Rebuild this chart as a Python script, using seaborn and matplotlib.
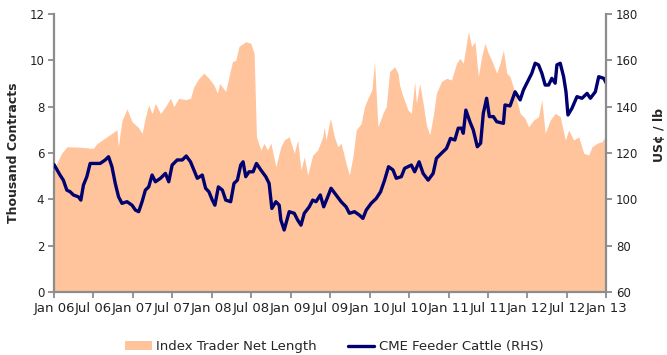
import matplotlib
matplotlib.use("Agg")
import matplotlib.pyplot as plt
import numpy as np
import pandas as pd
import seaborn as sns

# Index trader net length (thousand contracts), time in decimal years
area_time = [2006.000, 2006.098, 2006.165, 2006.331, 2006.496, 2006.543, 2006.585, 2006.734,
             2006.798, 2006.814, 2006.861, 2006.925, 2006.989, 2007.069, 2007.116, 2007.158,
             2007.200, 2007.243, 2007.285, 2007.349, 2007.412, 2007.476, 2007.518, 2007.581,
             2007.667, 2007.730, 2007.772, 2007.836, 2007.899, 2007.963, 2008.027, 2008.070,
             2008.099, 2008.176, 2008.218, 2008.261, 2008.303, 2008.345, 2008.430, 2008.494,
             2008.536, 2008.566, 2008.621, 2008.663, 2008.706, 2008.748, 2008.812, 2008.875,
             2008.917, 2008.981, 2009.045, 2009.088, 2009.130, 2009.172, 2009.215, 2009.279,
             2009.342, 2009.406, 2009.426, 2009.448, 2009.503, 2009.553, 2009.596, 2009.639,
             2009.702, 2009.744, 2009.788, 2009.830, 2009.893, 2009.935, 2009.978, 2010.029,
             2010.062, 2010.106, 2010.169, 2010.211, 2010.253, 2010.317, 2010.360, 2010.380,
             2010.424, 2010.487, 2010.529, 2010.571, 2010.593, 2010.635, 2010.678, 2010.720,
             2010.762, 2010.805, 2010.847, 2010.911, 2010.975, 2011.038, 2011.102, 2011.144,
             2011.187, 2011.251, 2011.293, 2011.335, 2011.378, 2011.420, 2011.462, 2011.505,
             2011.547, 2011.611, 2011.653, 2011.696, 2011.738, 2011.780, 2011.844, 2011.908,
             2011.971, 2012.014, 2012.078, 2012.141, 2012.183, 2012.225, 2012.289, 2012.352,
             2012.416, 2012.480, 2012.523, 2012.586, 2012.650, 2012.714, 2012.777, 2012.819,
             2012.883, 2012.947, 2013.000]
net_length = [5.3, 6.0, 6.27, 6.25, 6.2, 6.4, 6.5, 6.85,
              7.0, 6.27, 7.4, 7.9, 7.35, 7.1, 6.85, 7.55,
              8.07, 7.7, 8.14, 7.7, 8.0, 8.36, 8.0, 8.36,
              8.3, 8.36, 8.86, 9.22, 9.44, 9.22, 8.93, 8.58,
              9.0, 8.65, 9.3, 9.94, 10.0, 10.6, 10.8, 10.73,
              10.3, 6.7, 6.13, 6.42, 6.13, 6.43, 5.41, 6.27,
              6.56, 6.7, 5.99, 6.56, 5.27, 5.84, 5.05, 5.91,
              6.13, 6.7, 7.13, 6.56, 7.5, 6.7, 6.27, 6.42,
              5.55, 5.05, 5.84, 6.99, 7.28, 8.0, 8.36, 8.72,
              9.94, 7.13, 7.71, 8.0, 9.51, 9.72, 9.44, 8.93,
              8.43, 7.85, 7.71, 9.08, 8.14, 9.0, 8.14, 7.21,
              6.78, 7.57, 8.58, 9.08, 9.22, 9.15, 9.87, 10.08,
              9.87, 11.23, 10.59, 10.8, 9.29, 10.16, 10.73, 10.3,
              10.0, 9.44, 9.87, 10.44, 9.44, 9.29, 8.58, 7.71,
              7.49, 7.13, 7.42, 7.57, 8.29, 6.85, 7.42, 7.71,
              7.57, 6.56, 6.99, 6.56, 6.7, 5.99, 5.91, 6.27,
              6.42, 6.49, 6.78]

# CME feeder cattle (US cents / lb)
cattle_time = [2006.000, 2006.076, 2006.118, 2006.162, 2006.204, 2006.246, 2006.309, 2006.340,
               2006.373, 2006.416, 2006.458, 2006.522, 2006.585, 2006.649, 2006.691, 2006.734,
               2006.776, 2006.818, 2006.861, 2006.925, 2006.989, 2007.031, 2007.073, 2007.116,
               2007.158, 2007.200, 2007.243, 2007.285, 2007.349, 2007.412, 2007.454, 2007.497,
               2007.561, 2007.625, 2007.676, 2007.730, 2007.772, 2007.816, 2007.879, 2007.921,
               2007.963, 2008.006, 2008.039, 2008.083, 2008.134, 2008.176, 2008.239, 2008.281,
               2008.324, 2008.366, 2008.396, 2008.430, 2008.472, 2008.523, 2008.566, 2008.621,
               2008.684, 2008.726, 2008.761, 2008.812, 2008.854, 2008.875, 2008.917, 2008.981,
               2009.045, 2009.088, 2009.130, 2009.172, 2009.235, 2009.279, 2009.321, 2009.375,
               2009.418, 2009.469, 2009.511, 2009.575, 2009.639, 2009.702, 2009.744, 2009.808,
               2009.871, 2009.915, 2009.957, 2010.020, 2010.084, 2010.139, 2010.190, 2010.240,
               2010.296, 2010.338, 2010.402, 2010.444, 2010.529, 2010.571, 2010.627, 2010.678,
               2010.742, 2010.805, 2010.847, 2010.911, 2010.975, 2011.025, 2011.080, 2011.123,
               2011.165, 2011.187, 2011.220, 2011.271, 2011.314, 2011.365, 2011.407, 2011.441,
               2011.483, 2011.518, 2011.569, 2011.611, 2011.696, 2011.716, 2011.780, 2011.844,
               2011.908, 2011.950, 2012.014, 2012.056, 2012.098, 2012.141, 2012.183, 2012.225,
               2012.268, 2012.310, 2012.352, 2012.374, 2012.416, 2012.459, 2012.489, 2012.514,
               2012.565, 2012.628, 2012.692, 2012.756, 2012.798, 2012.861, 2012.904, 2012.968,
               2013.000]
cattle_price = [115.0, 110.5, 108.3, 104.0, 103.3, 101.9, 101.1, 99.7,
                106.2, 109.8, 115.5, 115.5, 115.5, 117.0, 118.4, 114.1,
                106.9, 101.1, 98.3, 99.0, 97.5, 95.4, 94.7, 99.0,
                104.0, 105.4, 110.5, 107.6, 109.1, 111.2, 107.6, 114.8,
                117.0, 117.0, 118.7, 116.2, 112.7, 109.1, 110.5, 104.8,
                103.3, 99.7, 97.5, 105.4, 104.0, 99.7, 99.0, 106.9,
                108.3, 114.8, 116.2, 109.8, 111.9, 111.9, 115.5, 112.7,
                109.8, 106.9, 96.1, 99.0, 97.5, 91.1, 86.8, 94.7,
                94.0, 91.1, 88.9, 94.0, 96.8, 99.7, 99.0, 101.9,
                96.8, 101.1, 104.8, 101.9, 99.0, 96.8, 94.0, 94.7,
                93.2, 91.8, 95.4, 98.3, 100.4, 103.3, 108.3, 114.1,
                112.7, 109.1, 109.8, 113.4, 114.8, 111.9, 116.2, 111.2,
                108.3, 111.2, 117.7, 119.9, 122.0, 126.3, 125.6, 130.7,
                130.7, 128.5, 138.5, 133.5, 129.9, 122.7, 124.2, 137.1,
                143.6, 135.7, 135.7, 133.5, 132.8, 140.7, 140.3, 146.4,
                142.9, 147.2, 151.5, 154.4, 158.7, 158.0, 154.4, 149.3,
                149.3, 152.2, 150.1, 158.0, 158.7, 152.9, 146.4, 136.4,
                139.3, 144.3, 143.6, 145.7, 143.6, 146.4, 152.9, 152.2,
                150.1]

tick_labels = ["Jan 06", "Jul 06", "Jan 07", "Jul 07", "Jan 08", "Jul 08", "Jan 09", "Jul 09",
               "Jan 10", "Jul 10", "Jan 11", "Jul 11", "Jan 12", "Jul 12", "Jan 13"]

area_df = pd.DataFrame({"time": area_time, "net": net_length})
cattle_df = pd.DataFrame({"time": cattle_time, "price": cattle_price})

sns.set_style("white")
plt.rcParams["font.family"] = ["DejaVu Sans"]

AREA_COLOR = "#FFC49C"
LINE_COLOR = "#000070"
AXIS_GRAY = "#8c8c8c"

fig = plt.figure(figsize=(6.67, 3.55), dpi=100)
ax = fig.add_axes([0.081, 0.177, 0.828, 0.784])

ax.fill_between(area_df["time"], 0, area_df["net"], color=AREA_COLOR, linewidth=0,
                label="Index Trader Net Length")
ax.set_xlim(2006.0, 2013.0)
ax.set_ylim(0, 12)
ax.set_yticks(range(0, 13, 2))
ax.set_xticks(2006 + 0.5 * np.arange(len(tick_labels)))
ax.set_xticklabels(tick_labels)
ax.set_ylabel("Thousand Contracts", fontsize=9, fontweight="bold")
ax.yaxis.set_label_coords(-0.062, 0.5)

ax2 = ax.twinx()
sns.lineplot(data=cattle_df, x="time", y="price", ax=ax2, color=LINE_COLOR, linewidth=2.4,
             label="CME Feeder Cattle (RHS)", legend=False)
ax2.set_ylim(60, 180)
ax2.set_yticks(range(60, 181, 20))
ax2.set_xlim(2006.0, 2013.0)
ax2.set_xlabel("")
ax2.set_ylabel("US\u00a2 / lb", fontsize=9, fontweight="bold", rotation=90)
ax2.yaxis.set_label_coords(1.084, 0.565)

for a in (ax, ax2):
    a.spines["top"].set_visible(False)
    for side in ("left", "right", "bottom"):
        a.spines[side].set_color(AXIS_GRAY)
        a.spines[side].set_linewidth(1.6)
    a.tick_params(colors=AXIS_GRAY, labelcolor="#222222", labelsize=8.5, length=4,
                  width=1.3, direction="out")
ax.spines["right"].set_visible(False)
ax2.spines["left"].set_visible(False)
ax2.spines["bottom"].set_visible(False)
ax.tick_params(axis="y", left=True, pad=3)
ax.tick_params(axis="x", bottom=True, pad=3, labelsize=9.5)
ax2.tick_params(axis="y", right=True, pad=3)

handles1, labels1 = ax.get_legend_handles_labels()
handles2, labels2 = ax2.get_legend_handles_labels()
fig.legend(handles1 + handles2, labels1 + labels2, loc="center", bbox_to_anchor=(0.5015, 0.023),
           ncol=2, frameon=False, fontsize=9.5, columnspacing=2.35, handlelength=2.0,
           handletextpad=0.35)

fig.savefig("out.png", dpi=100)
